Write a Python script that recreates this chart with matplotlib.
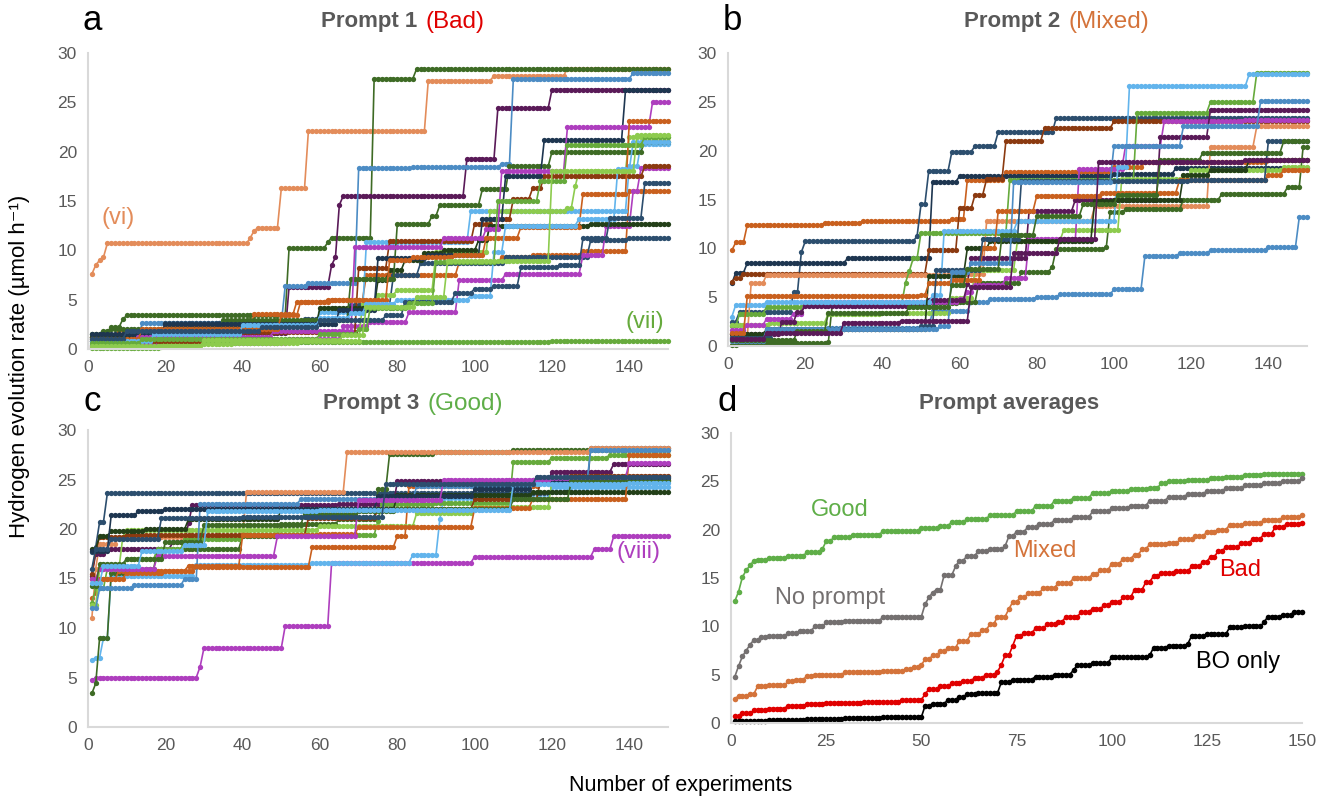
import numpy as np
import matplotlib
matplotlib.use("Agg")
import matplotlib.pyplot as plt

plt.rcParams['font.family'] = ['Liberation Sans', 'DejaVu Sans']

W, H = 1319, 797
N_EXP = 150

# colour palette of the individual runs
LORANGE = '#E38C5A'
ORANGE = '#C9601E'
BROWN = '#8B3A10'
BLUE = '#4C8CC4'
LBLUE = '#62B4EC'
NAVY = '#2C4E6E'
DNAVY = '#1E3650'
DPURPLE = '#5A1A58'
MAGENTA = '#AE3EBE'
GREEN = '#66AA3C'
LGREEN = '#8DCB4E'
DGREEN = '#3E6B25'
DGREEN2 = '#233F18'
GREY = '#595959'

# best-so-far runs, stored as (experiment, value) change points
runs_bad = [
    (LORANGE, [(1, 7.6), (2, 8.5), (3, 9.0), (4, 9.3), (5, 10.7), (42, 11.3), (43, 12.0), (44, 12.3),
               (50, 16.3), (57, 22.1), (88, 27.2), (105, 27.7), (124, 28.4)]),
    (DGREEN, [(1, 1.2), (4, 1.8), (6, 2.2), (9, 3.0), (10, 3.4), (52, 10.2), (62, 10.8), (63, 11.3),
              (74, 27.4), (85, 28.4)]),
    (DPURPLE, [(1, 0.4), (20, 1.6), (52, 6.3), (63, 8.5), (64, 9.3), (65, 14.6), (66, 15.5), (98, 19.3),
               (106, 24.4), (120, 26.3)]),
    (BLUE, [(1, 1.1), (14, 2.6), (51, 6.4), (57, 6.7), (70, 18.3), (84, 18.4), (107, 18.8), (110, 27.4),
            (141, 28.0)]),
    (ORANGE, [(1, 1.2), (8, 1.9), (20, 2.3), (43, 3.5), (54, 4.8), (62, 5.0), (72, 7.5), (96, 8.8),
              (107, 9.3), (115, 9.5), (128, 9.9), (140, 16.0)]),
    (LBLUE, [(1, 0.5), (18, 1.8), (40, 2.8), (60, 3.7), (72, 10.8), (99, 14.0), (140, 18.5), (143, 20.8)]),
    (NAVY, [(1, 0.8), (12, 1.3), (20, 2.6), (56, 3.0), (68, 4.5), (79, 7.5), (86, 8.7), (108, 9.3),
            (130, 11.0), (140, 11.2)]),
    (MAGENTA, [(1, 0.2), (12, 0.5), (20, 0.6), (52, 1.0), (66, 2.3), (73, 2.7), (83, 3.7), (96, 7.0),
               (108, 7.6), (128, 9.5), (134, 12.5), (141, 16.0), (143, 18.3)]),
    (GREEN, [(1, 0.1), (19, 0.6), (50, 0.7), (70, 0.75), (120, 0.8)]),
    (LGREEN, [(1, 0.2), (20, 0.5), (38, 0.6), (55, 0.8), (71, 4.6), (75, 5.5), (80, 6.0), (90, 9.8),
              (104, 14.0), (124, 14.3), (126, 16.5), (127, 18.0), (140, 21.5)]),
    (BROWN, [(1, 0.8), (30, 1.7), (70, 8.2), (78, 10.9), (100, 12.7), (105, 13.2), (110, 15.2), (115, 16.3),
             (118, 17.5), (144, 18.5)]),
    (DGREEN2, [(1, 1.2), (20, 2.0), (45, 2.4), (60, 4.2), (75, 7.0), (78, 8.0), (82, 9.0), (87, 9.7),
               (92, 10.0), (101, 11.0), (104, 12.5), (130, 12.7)]),
    (DGREEN, [(1, 1.5), (6, 2.0), (35, 2.9), (68, 7.1), (80, 12.7), (89, 13.5), (91, 14.6), (102, 16.2),
              (109, 18.5), (120, 20.0), (144, 21.0)]),
    (DNAVY, [(1, 1.5), (20, 2.5), (65, 4.0), (75, 9.2), (88, 9.5), (102, 13.2), (108, 17.5), (118, 21.2),
             (139, 26.2)]),
    (MAGENTA, [(1, 0.3), (13, 1.2), (48, 1.8), (69, 10.3), (92, 11.2), (103, 12.2), (107, 18.0),
               (124, 22.5), (146, 25.0)]),
    (ORANGE, [(1, 1.0), (14, 2.0), (50, 3.4), (55, 4.8), (63, 5.0), (78, 9.0), (84, 9.3), (95, 9.5),
              (103, 11.3), (112, 12.4), (128, 15.7), (140, 23.1)]),
    (LBLUE, [(1, 0.8), (17, 1.5), (40, 2.4), (60, 3.1), (68, 3.6), (72, 4.6), (80, 5.0), (99, 5.4),
             (105, 9.8), (108, 12.5), (127, 13.2), (137, 18.2), (141, 21.0)]),
    (NAVY, [(1, 1.0), (10, 1.8), (45, 2.2), (60, 2.9), (77, 3.4), (82, 4.8), (95, 5.7), (100, 6.1),
            (105, 6.4), (112, 8.3), (122, 8.5), (128, 11.2), (135, 13.3), (144, 16.8)]),
    (GREEN, [(1, 0.6), (14, 1.0), (60, 1.5), (70, 2.0), (73, 4.2), (83, 4.7), (90, 8.8), (106, 15.0),
             (117, 17.0), (124, 20.7), (144, 21.5)]),
    (LGREEN, [(1, 0.3), (30, 0.9), (66, 1.4), (72, 4.3), (85, 5.3), (93, 8.9), (120, 18.0), (142, 21.7)]),
]

runs_mixed = [
    (ORANGE, [(1, 9.8), (2, 10.6), (5, 12.4), (25, 12.6), (35, 12.8), (58, 13.0), (62, 17.0), (72, 17.8),
              (100, 18.3), (108, 18.8), (140, 19.0)]),
    (NAVY, [(1, 2.5), (3, 3.5), (17, 5.5), (19, 9.6), (20, 10.7), (49, 11.3), (50, 14.5), (52, 17.9),
            (58, 19.9), (64, 20.5), (70, 21.9), (85, 23.3)]),
    (DNAVY, [(1, 6.4), (2, 7.5), (5, 8.5), (31, 9.0), (53, 16.8), (60, 17.4), (100, 17.6), (116, 18.2)]),
    (BROWN, [(1, 6.6), (2, 7.0), (4, 7.4), (52, 9.8), (60, 14.1), (64, 15.5), (67, 17.1), (72, 21.0),
             (82, 22.3), (100, 23.0)]),
    (LORANGE, [(1, 1.0), (6, 6.4), (10, 7.3), (58, 7.4), (67, 12.8), (80, 12.8), (95, 14.3), (125, 20.4),
               (137, 22.5)]),
    (BLUE, [(1, 0.9), (10, 1.5), (26, 1.8), (53, 3.6), (63, 4.5), (68, 4.8), (80, 5.0), (86, 5.3),
            (100, 5.8), (108, 9.2), (117, 9.5), (125, 9.8), (140, 10.1), (148, 13.2)]),
    (DGREEN, [(1, 0.1), (3, 0.3), (26, 0.4), (27, 4.2), (35, 4.4), (60, 4.5), (65, 6.5), (76, 7.6),
              (84, 8.1), (85, 9.9), (98, 10.1), (99, 13.7), (103, 14.0), (118, 15.0), (128, 15.6),
              (145, 16.3), (149, 20.4)]),
    (GREEN, [(1, 2.0), (3, 3.3), (10, 4.0), (20, 4.3), (46, 6.5), (47, 7.7), (48, 9.0), (50, 11.6),
             (73, 17.0), (106, 23.9), (125, 25.0), (137, 28.0)]),
    (LGREEN, [(1, 2.2), (11, 2.4), (26, 3.3), (40, 3.4), (58, 4.9), (64, 7.8), (75, 10.8), (87, 11.9),
              (102, 17.1), (120, 18.0), (144, 18.3)]),
    (MAGENTA, [(1, 1.6), (5, 2.1), (10, 2.8), (17, 3.3), (20, 4.5), (60, 4.8), (62, 5.5), (64, 6.2),
               (72, 7.0), (78, 11.0), (91, 18.1), (103, 20.5), (113, 23.0), (134, 23.1)]),
    (DPURPLE, [(1, 1.2), (14, 2.5), (18, 3.5), (20, 4.1), (52, 4.7), (62, 6.3), (63, 9.0), (78, 13.8),
               (90, 15.0), (112, 21.4), (125, 24.2)]),
    (LBLUE, [(1, 3.0), (2, 4.2), (10, 4.5), (53, 5.2), (56, 11.8), (75, 12.8), (101, 18.3), (104, 26.6),
             (135, 27.8)]),
    (DGREEN2, [(1, 1.2), (10, 1.7), (52, 7.2), (62, 10.0), (68, 10.8), (95, 14.8), (100, 15.0),
               (118, 17.5), (125, 18.0), (135, 19.0)]),
    (ORANGE, [(1, 1.3), (5, 5.1), (50, 5.2), (52, 6.4), (58, 6.8), (66, 10.0), (70, 13.8), (80, 15.4),
              (97, 15.7), (117, 17.0), (140, 17.5), (144, 18.0)]),
    (NAVY, [(1, 0.8), (12, 1.7), (50, 2.0), (54, 7.8), (66, 11.0), (76, 16.9), (120, 17.0), (140, 21.0)]),
    (BLUE, [(1, 0.5), (10, 1.7), (55, 2.0), (58, 7.6), (63, 8.5), (74, 16.8), (100, 20.5), (118, 22.5),
            (138, 25.1)]),
    (DGREEN, [(1, 0.6), (18, 1.5), (26, 3.4), (47, 4.0), (58, 6.2), (62, 7.9), (71, 11.4), (80, 13.3),
              (92, 14.5), (101, 15.5), (112, 19.0), (123, 19.8), (144, 21.0)]),
    (DPURPLE, [(1, 0.7), (10, 1.3), (30, 2.4), (45, 2.6), (63, 6.0), (74, 9.5), (86, 11.0), (96, 18.8),
               (134, 19.0)]),
]

runs_good = [
    (MAGENTA, [(1, 4.7), (2, 5.0), (29, 6.1), (30, 8.0), (51, 10.2), (63, 16.6), (100, 17.2), (131, 18.0),
               (136, 19.3)]),
    (NAVY, [(1, 17.7), (2, 18.2), (3, 20.7), (5, 23.6), (120, 23.7), (130, 28.2)]),
    (LBLUE, [(1, 6.8), (2, 7.0), (4, 9.0), (6, 15.3), (28, 16.4), (58, 16.6), (84, 17.4), (91, 21.0),
             (92, 23.1), (120, 24.2)]),
    (DGREEN, [(1, 3.4), (2, 4.4), (3, 9.0), (6, 15.6), (10, 15.8), (15, 16.0), (18, 18.0), (40, 19.3),
              (50, 20.5), (65, 21.0), (75, 24.0), (78, 27.6), (90, 27.8), (110, 28.0)]),
    (ORANGE, [(1, 13.0), (2, 13.5), (3, 14.9), (8, 15.8), (28, 16.2), (58, 18.2), (80, 19.3), (83, 24.3),
              (117, 25.0)]),
    (LORANGE, [(1, 11.0), (2, 16.0), (3, 18.5), (8, 19.2), (40, 19.6), (41, 23.7), (67, 27.8), (130, 28.2)]),
    (DPURPLE, [(1, 15.3), (2, 17.5), (5, 18.0), (22, 18.7), (26, 20.6), (27, 22.4), (65, 22.5), (80, 24.8),
               (120, 25.8), (136, 26.6)]),
    (GREEN, [(1, 12.5), (2, 14.0), (5, 16.0), (10, 17.0), (18, 18.0), (25, 19.0), (40, 19.4), (75, 20.8),
             (76, 22.5), (90, 22.6), (110, 26.8), (120, 27.2), (135, 27.5)]),
    (LGREEN, [(1, 12.3), (3, 16.0), (9, 19.2), (10, 19.9), (60, 20.3), (85, 21.6), (100, 22.2), (120, 24.9)]),
    (BROWN, [(1, 15.5), (2, 17.8), (3, 19.2), (10, 19.4), (57, 21.1), (75, 22.0), (100, 23.0), (117, 24.8),
             (125, 25.4)]),
    (DGREEN2, [(1, 18.0), (3, 19.3), (6, 19.8), (15, 20.0), (26, 21.0), (50, 22.0), (80, 23.4), (115, 23.7)]),
    (BLUE, [(1, 12.0), (3, 14.0), (12, 14.3), (25, 15.0), (29, 22.5), (55, 23.0), (85, 24.3), (115, 24.6),
            (130, 28.0)]),
    (DNAVY, [(1, 17.8), (6, 21.4), (13, 21.8), (20, 22.0), (75, 23.3), (100, 24.0), (115, 25.0), (140, 25.2)]),
    (ORANGE, [(1, 14.9), (3, 15.0), (10, 15.6), (20, 15.8), (26, 16.3), (40, 19.4), (60, 19.5), (70, 20.2),
              (100, 22.1), (115, 23.0), (140, 27.5)]),
    (MAGENTA, [(1, 15.0), (3, 16.0), (18, 17.3), (49, 19.3), (70, 22.9), (92, 25.0), (120, 25.2),
               (140, 26.7)]),
    (DGREEN, [(1, 14.2), (3, 16.5), (10, 17.0), (20, 18.7), (30, 20.4), (56, 21.5), (70, 21.8), (80, 22.0),
              (110, 23.0), (125, 24.8)]),
    (LBLUE, [(1, 14.5), (4, 16.3), (14, 17.8), (25, 18.4), (31, 21.8), (60, 21.9), (110, 24.5), (140, 24.6)]),
    (NAVY, [(1, 16.0), (2, 18.0), (6, 19.0), (19, 21.1), (40, 21.2), (77, 24.5), (116, 25.3)]),
]

# prompt averages
avg_good = [(1, 12.6), (2, 13.6), (3, 15.1), (4, 15.8), (5, 16.3), (6, 16.8), (7, 16.9), (10, 17.1),
            (15, 17.3), (20, 17.7), (24, 18.0), (25, 18.8), (27, 19.2), (32, 19.5), (40, 19.9), (50, 20.2),
            (55, 20.4), (58, 20.8), (62, 21.1), (68, 21.5), (75, 21.9), (80, 22.5), (85, 23.0), (90, 23.3),
            (95, 23.8), (100, 24.0), (105, 24.2), (110, 24.3), (113, 24.8), (115, 25.0), (120, 25.1),
            (126, 25.3), (130, 25.5), (135, 25.7), (140, 25.8)]
avg_none = [(1, 4.8), (2, 5.9), (3, 6.9), (4, 7.5), (5, 8.1), (6, 8.6), (8, 8.9), (10, 9.0), (15, 9.3),
            (18, 9.5), (22, 10.0), (25, 10.4), (30, 10.6), (40, 11.0), (51, 12.3), (52, 13.0), (53, 13.5),
            (54, 13.8), (56, 15.3), (59, 16.2), (60, 16.8), (62, 17.3), (65, 17.8), (68, 18.0), (72, 18.3),
            (73, 19.3), (75, 19.8), (78, 20.3), (81, 20.6), (85, 21.0), (90, 21.3), (95, 21.9), (100, 22.2),
            (105, 22.5), (110, 23.0), (115, 23.4), (120, 23.7), (125, 24.0), (130, 24.3), (135, 24.6),
            (140, 24.8), (145, 25.0), (150, 25.3)]
avg_mixed = [(1, 2.5), (2, 2.8), (5, 3.0), (7, 3.8), (10, 3.9), (15, 4.3), (17, 4.5), (20, 4.9), (22, 5.0),
             (30, 5.3), (40, 5.4), (46, 5.6), (48, 5.8), (50, 6.0), (51, 6.6), (53, 7.0), (55, 7.4),
             (57, 7.8), (60, 8.5), (63, 9.2), (66, 9.6), (68, 10.2), (70, 11.0), (73, 11.8), (74, 12.5),
             (76, 13.0), (78, 13.4), (82, 14.0), (86, 14.5), (90, 15.0), (95, 15.4), (97, 15.8), (100, 16.5),
             (103, 17.0), (106, 17.4), (108, 18.0), (110, 18.5), (115, 18.6), (118, 19.0), (122, 19.3),
             (125, 19.8), (128, 20.0), (131, 20.5), (135, 20.7), (140, 21.0), (145, 21.3), (150, 21.5)]
avg_bad = [(1, 0.7), (3, 1.0), (6, 1.3), (10, 1.5), (15, 1.8), (20, 2.0), (25, 2.1), (35, 2.2), (45, 2.4),
           (51, 3.0), (52, 3.5), (55, 3.8), (58, 4.1), (61, 4.3), (64, 4.7), (67, 5.0), (70, 5.3), (71, 6.0),
           (72, 7.0), (74, 8.0), (75, 9.0), (77, 9.3), (80, 9.8), (83, 10.2), (86, 10.5), (88, 11.0),
           (92, 11.5), (95, 11.8), (98, 12.2), (100, 12.5), (103, 13.0), (106, 13.8), (109, 14.6),
           (111, 15.2), (113, 15.5), (117, 15.7), (121, 16.2), (124, 16.7), (126, 17.2), (128, 17.8),
           (130, 18.2), (134, 18.6), (137, 19.0), (140, 19.6), (143, 20.3), (146, 20.6), (150, 20.7)]
avg_bo = [(1, 0.2), (10, 0.3), (20, 0.4), (30, 0.5), (40, 0.6), (51, 1.8), (53, 2.0), (57, 2.4), (60, 2.7),
          (62, 3.0), (65, 3.1), (71, 4.2), (74, 4.5), (80, 4.8), (85, 5.0), (90, 5.5), (91, 6.0), (95, 6.2),
          (100, 6.8), (110, 7.0), (111, 7.8), (115, 8.0), (120, 8.2), (121, 9.0), (125, 9.2), (131, 9.9),
          (135, 10.0), (140, 10.4), (141, 11.0), (145, 11.2), (148, 11.5)]

averages = [
    (avg_good, '#5FAE48'),
    (avg_none, '#747070'),
    (avg_mixed, '#D4733A'),
    (avg_bad, '#E00000'),
    (avg_bo, '#000000'),
]


def best_so_far(points):
    # hold each recorded best value until the next improvement
    xs = np.arange(1, N_EXP + 1)
    px = np.array([p[0] for p in points])
    py = np.array([p[1] for p in points])
    idx = np.searchsorted(px, xs, side='right') - 1
    return xs, py[idx]


def fx(px):
    return px / W


def fy(py):
    return 1 - py / H


def make_axes(l, r, t, b, xstep):
    ax = fig.add_axes([fx(l), fy(b), fx(r) - fx(l), fy(t) - fy(b)])
    ax.set_xlim(0, 150)
    ax.set_ylim(0, 30)
    ax.set_xticks(np.arange(0, 151 if xstep == 25 else 141, xstep))
    ax.set_yticks(np.arange(0, 31, 5))
    for s in ['top', 'right']:
        ax.spines[s].set_visible(False)
    for s in ['left', 'bottom']:
        ax.spines[s].set_color('#D9D9D9')
        ax.spines[s].set_linewidth(1.5)
    ax.tick_params(length=0, labelsize=12.5, labelcolor=GREY, pad=8)
    return ax


def draw_runs(ax, runs):
    for color, pts in runs:
        xs, ys = best_so_far(pts)
        ax.plot(xs, ys, color=color, lw=1.2, marker='o', ms=3.8, mew=0, clip_on=False)


fig = plt.figure(figsize=(W / 100, H / 100), dpi=100)

ax_a = make_axes(88, 668, 53, 349, 20)
ax_b = make_axes(728, 1307, 53, 346, 20)
ax_c = make_axes(88, 668, 430, 727, 20)
ax_d = make_axes(731, 1302, 433, 723, 25)

draw_runs(ax_a, runs_bad)
draw_runs(ax_b, runs_mixed)
draw_runs(ax_c, runs_good)
for pts, color in averages:
    xs, ys = best_so_far(pts)
    ax_d.plot(xs, ys, color=color, lw=1.2, marker='o', ms=4.0, mew=0, clip_on=False)

# annotations
ax_a.text(7.8, 13.3, '(vi)', color=LORANGE, fontsize=17, ha='center', va='center')
ax_a.text(144, 2.7, '(vii)', color=GREEN, fontsize=17, ha='center', va='center')
ax_c.text(142.5, 17.7, '(viii)', color=MAGENTA, fontsize=17, ha='center', va='center')
ax_d.text(28.6, 22.0, 'Good', color='#5FAE48', fontsize=17, ha='center', va='center')
ax_d.text(26, 12.9, 'No prompt', color='#747070', fontsize=17, ha='center', va='center')
ax_d.text(82.5, 17.8, 'Mixed', color='#D4733A', fontsize=17, ha='center', va='center')
ax_d.text(133.7, 15.8, 'Bad', color='#E00000', fontsize=17, ha='center', va='center')
ax_d.text(133.2, 6.3, 'BO only', color='#000000', fontsize=17, ha='center', va='center')

# panel titles
titles = [
    (417, 22, 'Prompt 1', '(Bad)', '#E00000'),
    (1060, 22, 'Prompt 2', '(Mixed)', '#D4733A'),
    (419, 404, 'Prompt 3', '(Good)', '#5FAE48'),
]
for x, y, main, tag, col in titles:
    fig.text(fx(x), fy(y), main, fontsize=16, fontweight='bold', color=GREY, ha='right', va='center')
    fig.text(fx(x + 9), fy(y), tag, fontsize=17.5, color=col, ha='left', va='center')
fig.text(fx(1009), fy(404), 'Prompt averages', fontsize=16, fontweight='bold', color=GREY,
         ha='center', va='center')

# panel letters
for x, y, letter in [(92, 20, 'a'), (732, 20, 'b'), (92, 402, 'c'), (727, 402, 'd')]:
    fig.text(fx(x), fy(y), letter, fontsize=25, color='black', ha='center', va='center')

fig.text(fx(20), fy(366), 'Hydrogen evolution rate (\u00b5mol h\u207b\u00b9)', fontsize=16,
         rotation=90, ha='center', va='center')
fig.text(fx(681), fy(785), 'Number of experiments', fontsize=15.5, ha='center', va='center')

fig.savefig('out.png', dpi=100)
